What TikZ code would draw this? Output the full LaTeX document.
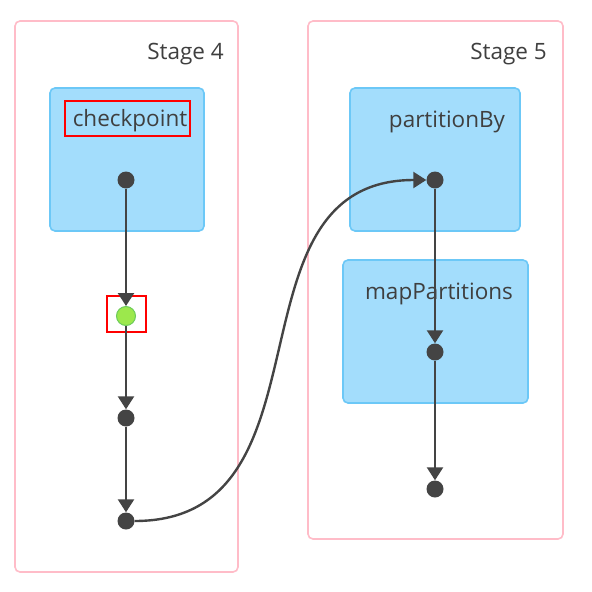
\documentclass[tikz,border=0pt]{standalone}
\usepackage{fontspec}
\setmainfont{Open Sans}
\usetikzlibrary{arrows.meta}
\definecolor{stageborder}{HTML}{FFBCC8}
\definecolor{opfill}{HTML}{A3DDFC}
\definecolor{opborder}{HTML}{6CC8F7}
\definecolor{dotgray}{HTML}{444444}
\definecolor{txtgray}{HTML}{3F3F3F}
\definecolor{greenfill}{HTML}{9CE84C}
\definecolor{greenborder}{HTML}{6CCB5A}
\begin{document}
\begin{tikzpicture}[x=1pt,y=-1pt,
  stage/.style={draw=stageborder, line width=1.6pt, rounded corners=5pt, fill=white, inner sep=0pt},
  opbox/.style={draw=opborder, line width=1.6pt, fill=opfill, rounded corners=5pt, inner sep=0pt},
  lbl/.style={text=txtgray, inner sep=0pt, font=\fontsize{22.5}{27}\selectfont},
  dot/.style={circle, fill=dotgray, inner sep=0pt, minimum size=17pt},
  gdot/.style={circle, fill=greenfill, draw=greenborder, line width=1pt, inner sep=0pt, minimum size=19pt},
  redbox/.style={draw=red, line width=1.8pt, inner sep=0pt},
  edge/.style={draw=dotgray, line width=2.4pt, -{Triangle[width=16pt,length=13pt]}}
]
\useasboundingbox (0,0) rectangle (592,592);
\fill[white] (0,0) rectangle (592,592);
% stages
\node[stage, minimum width=223pt, minimum height=551pt] (s4) at (126.5,296.5) {};
\node[stage, minimum width=255pt, minimum height=518pt] (s5) at (435.5,280) {};
\node[lbl, anchor=east] (s4l) at (224,54) {Stage 4};
\node[lbl, anchor=east] (s5l) at (547,54) {Stage 5};
% operation boxes
\node[opbox, minimum width=154pt, minimum height=143pt] (cpbox) at (127,159.5) {};
\node[opbox, minimum width=170pt, minimum height=143pt] (pbbox) at (435,159.5) {};
\node[opbox, minimum width=185pt, minimum height=143pt] (mpbox) at (435.5,331.5) {};
\node[lbl] (cpl) at (130,121) {checkpoint};
\node[redbox, minimum width=125pt, minimum height=35pt] (cpred) at (127.5,118.5) {};
\node[lbl] (pbl) at (447,122) {partitionBy};
\node[lbl] (mpl) at (439,294) {mapPartitions};
% dots
\node[dot] (a1) at (126,180) {};
\node[gdot] (a2) at (126,316) {};
\node[redbox, minimum width=39pt, minimum height=36pt] (gred) at (126.5,314) {};
\node[dot] (a3) at (126,418) {};
\node[dot] (a4) at (126,521) {};
\node[dot] (b1) at (435,180) {};
\node[dot] (b2) at (435,352) {};
\node[dot] (b3) at (435,489) {};
% edges
\draw[edge] (a1) -- (a2);
\draw[edge] (a2) -- (a3);
\draw[edge] (a3) -- (a4);
\draw[edge] (a4.east) .. controls (340,521) and (220,180) .. (b1.west);
\draw[edge] (b1) -- (b2);
\draw[edge] (b2) -- (b3);
\end{tikzpicture}
\end{document}
